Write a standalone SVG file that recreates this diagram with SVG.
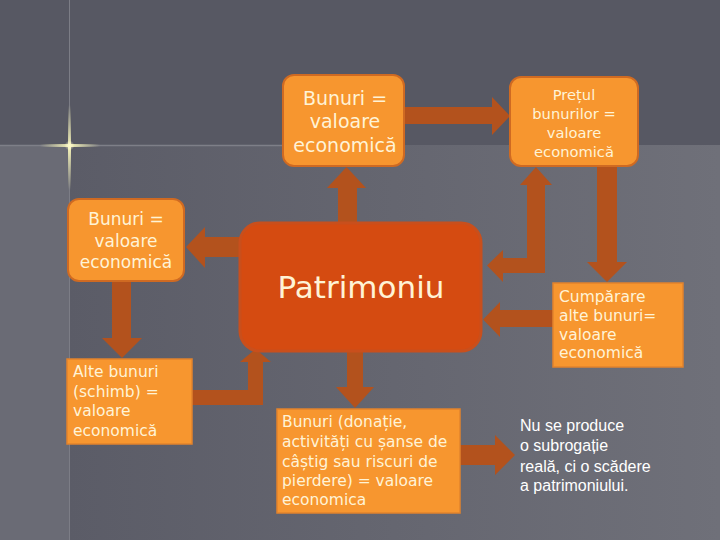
<svg xmlns="http://www.w3.org/2000/svg" width="720" height="540" viewBox="0 0 720 540">
  <defs>
    <linearGradient id="lowbg" x1="69" y1="0" x2="720" y2="0" gradientUnits="userSpaceOnUse">
      <stop offset="0" stop-color="#5b5c67"/>
      <stop offset="1" stop-color="#6f7079"/>
    </linearGradient>
    <linearGradient id="glowH" x1="0" y1="0" x2="1" y2="0">
      <stop offset="0" stop-color="#f4f2b8" stop-opacity="0"/>
      <stop offset="0.5" stop-color="#f4f2b8" stop-opacity="1"/>
      <stop offset="1" stop-color="#f4f2b8" stop-opacity="0"/>
    </linearGradient>
    <linearGradient id="glowV" x1="0" y1="0" x2="0" y2="1">
      <stop offset="0" stop-color="#f4f2b8" stop-opacity="0"/>
      <stop offset="0.5" stop-color="#f4f2b8" stop-opacity="1"/>
      <stop offset="1" stop-color="#f4f2b8" stop-opacity="0"/>
    </linearGradient>
    <radialGradient id="glowC">
      <stop offset="0" stop-color="#fffbd0" stop-opacity="0.9"/>
      <stop offset="1" stop-color="#fffbd0" stop-opacity="0"/>
    </radialGradient>
  </defs>
  <style>
    .arrow { fill: #b3521d; }
    .rbox { fill: #f7962f; stroke: #cf6a22; stroke-width: 2; }
    .sbox { fill: #f7962f; stroke: #e2832c; stroke-width: 1.5; }
    .main { fill: #d54b11; stroke: #c94f1c; stroke-width: 3; }
    .t { font-family: "DejaVu Sans", Verdana, sans-serif; fill: #fff3d6; }
    .c { text-anchor: middle; }
    .plain { font-family: "Liberation Sans", Arial, sans-serif; fill: #ffffff; font-size: 16px; }
  </style>

  <!-- background -->
  <rect x="0" y="0" width="720" height="540" fill="#575863"/>
  <rect x="69" y="145" width="651" height="395" fill="url(#lowbg)"/>
  <rect x="0" y="145" width="69" height="395" fill="#6a6b75"/>
  <line x1="69.5" y1="0" x2="69.5" y2="540" stroke="#7c7d86" stroke-width="1"/>
  <line x1="0" y1="145.5" x2="290" y2="145.5" stroke="#7e7f88" stroke-width="1.5"/>
  <rect x="40" y="144" width="60" height="3" fill="url(#glowH)"/>
  <rect x="68" y="105" width="3" height="85" fill="url(#glowV)"/>
  <circle cx="69.5" cy="145.5" r="5" fill="url(#glowC)"/>

  <!-- connectors -->
  <g id="connectors">
    <polygon class="arrow" points="338,222 338,188 327,188 346.5,167 366,188 357,188 357,222"/>
    <polygon class="arrow" points="404,107 492,107 492,97 510,116 492,135 492,124 404,124"/>
    <polygon class="arrow" points="241,237 205,237 205,227 186,247 205,268 205,257 241,257"/>
    <polygon class="arrow" points="112,281 112,338 102,338 122,358 142,338 131,338 131,281"/>
    <polygon class="arrow" points="192,390 248,390 248,362 240,362 255.5,349 271,362 263,362 263,405 192,405"/>
    <polygon class="arrow" points="347,351 347,387 336,387 355,408 374,387 363,387 363,351"/>
    <polygon class="arrow" points="460,445 495,445 495,435 515,455 495,475 495,465 460,465"/>
    <polygon class="arrow" points="597,166 597,262 587,262 607,282 627,262 617,262 617,166"/>
    <polygon class="arrow" points="527,185 520,185 536,167 552,185 545,185 545,273 503,273 503,282 487,265.5 503,250 503,258 527,258"/>
    <polygon class="arrow" points="553,310 500,310 500,302 483,319.5 500,337 500,327 553,327"/>
  </g>

  <!-- nodes -->
  <g id="bunuri-top">
    <rect class="rbox" x="283" y="75" width="121" height="91" rx="11"/>
    <text class="t c" font-size="19" x="345" y="105">Bunuri =</text>
    <text class="t c" font-size="19" x="345" y="128">valoare</text>
    <text class="t c" font-size="19" x="345" y="152">economică</text>
  </g>

  <g id="pretul">
    <rect class="rbox" x="510" y="77" width="128" height="89" rx="11"/>
    <text class="t c" font-size="14.7" x="574" y="100">Prețul</text>
    <text class="t c" font-size="14.7" x="574" y="119">bunurilor =</text>
    <text class="t c" font-size="14.7" x="574" y="138">valoare</text>
    <text class="t c" font-size="14.7" x="574" y="157">economică</text>
  </g>

  <g id="bunuri-left">
    <rect class="rbox" x="68" y="199" width="116" height="82" rx="11"/>
    <text class="t c" font-size="17" x="126" y="225">Bunuri =</text>
    <text class="t c" font-size="17" x="126" y="247">valoare</text>
    <text class="t c" font-size="17" x="126" y="268">economică</text>
  </g>

  <g id="patrimoniu">
    <rect class="main" x="240" y="223" width="241" height="128" rx="20"/>
    <text class="t c" font-size="31" x="361" y="298" fill="#fff6ea">Patrimoniu</text>
  </g>

  <g id="alte-bunuri">
    <rect class="sbox" x="67" y="359" width="125" height="85"/>
    <text class="t" font-size="15.5" x="73" y="377">Alte bunuri</text>
    <text class="t" font-size="15.5" x="73" y="397">(schimb) =</text>
    <text class="t" font-size="15.5" x="73" y="416">valoare</text>
    <text class="t" font-size="15.5" x="73" y="436">economică</text>
  </g>

  <g id="bunuri-donatie">
    <rect class="sbox" x="277" y="409" width="183" height="104"/>
    <text class="t" font-size="15.5" x="282" y="427">Bunuri (donație,</text>
    <text class="t" font-size="15.5" x="282" y="447">activități cu șanse de</text>
    <text class="t" font-size="15.5" x="282" y="467">câștig sau riscuri de</text>
    <text class="t" font-size="15.5" x="282" y="486">pierdere) = valoare</text>
    <text class="t" font-size="15.5" x="282" y="505">economica</text>
  </g>

  <g id="cumparare">
    <rect class="sbox" x="553" y="283" width="130" height="84"/>
    <text class="t" font-size="15.5" x="559" y="302">Cumpărare</text>
    <text class="t" font-size="15.5" x="559" y="321">alte bunuri=</text>
    <text class="t" font-size="15.5" x="559" y="340">valoare</text>
    <text class="t" font-size="15.5" x="559" y="358">economică</text>
  </g>

  <g id="nota">
    <text class="plain" x="520" y="431">Nu se produce</text>
    <text class="plain" x="520" y="451">o subrogație</text>
    <text class="plain" x="520" y="472">reală, ci o scădere</text>
    <text class="plain" x="520" y="491">a patrimoniului.</text>
  </g>
</svg>
